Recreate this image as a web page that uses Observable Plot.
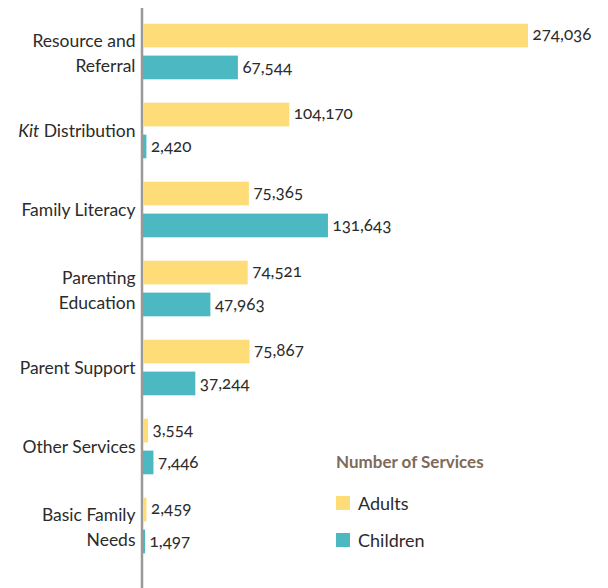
<!DOCTYPE html>
<html>
<head>
<meta charset="utf-8">
<script src="https://cdn.jsdelivr.net/npm/d3@7"></script>
<script src="https://cdn.jsdelivr.net/npm/@observablehq/plot@0.6"></script>
<style>
  html, body { margin: 0; padding: 0; background: #fff; }
  #wrap { position: relative; width: 608px; height: 588px; font-family: Lato, "Open Sans", sans-serif; }
  #legend { position: absolute; left: 336px; top: 451px; color: #2b2b2b; }
  #legend .title { font-weight: bold; font-size: 17px; line-height: 22px; color: #7d6b58; margin-bottom: 19px; }
  #legend .item { display: flex; align-items: center; height: 22px; margin-bottom: 15px; font-size: 18px; }
  #legend .sw { width: 14px; height: 14px; margin-right: 8px; }
</style>
</head>
<body>
<div id="wrap"></div>
<script>
const categories = ["Resource and Referral", "Kit Distribution", "Family Literacy", "Parenting Education", "Parent Support", "Other Services", "Basic Family Needs"];
const tickLabels = ["Resource and\nReferral", "Kit Distribution", "Family Literacy", "Parenting\nEducation", "Parent Support", "Other Services", "Basic Family\nNeeds"];
const adults = [274036, 104170, 75365, 74521, 75867, 3554, 2459];
const children = [67544, 2420, 131643, 47963, 37244, 7446, 1497];
const seriesNames = ["Adults", "Children"];
const seriesColors = ["#FEDC77", "#4BB8C2"];

const adultRows = categories.map((c, i) => ({category: c, value: adults[i]}));
const childRows = categories.map((c, i) => ({category: c, value: children[i]}));
const fmt = d3.format(",");
const labelOf = d => tickLabels[categories.indexOf(d)];
const singleLine = categories.filter(c => !labelOf(c).includes("\n"));
const multiLine = categories.filter(c => labelOf(c).includes("\n"));
const axisOpts = {tickSize: 0, tickPadding: 8, fontSize: 17.5, lineHeight: 1.45, label: null, fill: "#2b2b2b", tickFormat: labelOf};

const chart = Plot.plot({
  width: 608,
  height: 588,
  marginLeft: 143,
  marginRight: 80,
  marginTop: 8,
  marginBottom: 0,
  style: {fontFamily: "Lato, 'Open Sans', sans-serif", fontSize: "17px", color: "#2b2b2b", background: "#fff"},
  x: {domain: [0, d3.max(adults.concat(children))], axis: null},
  y: {domain: categories, range: [11.33, 566.67], paddingInner: 0, paddingOuter: 0, axis: null},
  marks: [
    Plot.ruleX([0], {stroke: "#999", strokeWidth: 2.5, dx: -1.5}),
    Plot.barX(adultRows, {x: "value", y: "category", fill: seriesColors[0], insetTop: 11.7, insetBottom: 43.6}),
    Plot.barX(childRows, {x: "value", y: "category", fill: seriesColors[1], insetTop: 43.6, insetBottom: 11.7}),
    Plot.text(adultRows, {x: "value", y: "category", text: d => fmt(d.value), dx: 4, dy: -17, textAnchor: "start", fontSize: 17, fill: "#2b2b2b"}),
    Plot.text(childRows, {x: "value", y: "category", text: d => fmt(d.value), dx: 4, dy: 16, textAnchor: "start", fontSize: 17, fill: "#2b2b2b"}),
    Plot.axisY({...axisOpts, ticks: singleLine, dy: -2.5}),
    Plot.axisY({...axisOpts, ticks: multiLine, dy: -0.5})
  ]
});

d3.select(chart).selectAll("text").each(function() {
  if (this.textContent === "Kit Distribution" && this.children.length === 0) {
    const t = d3.select(this);
    t.text("");
    t.append("tspan").attr("font-style", "italic").text("Kit");
    t.append("tspan").text(" Distribution");
  }
});
d3.select(chart).selectAll("text").style("font-variant-numeric", "oldstyle-nums");

const wrap = document.getElementById("wrap");
wrap.appendChild(chart);

const legend = document.createElement("div");
legend.id = "legend";
legend.innerHTML = '<div class="title">Number of Services</div>' +
  seriesNames.map((s, i) => `<div class="item"><div class="sw" style="background:${seriesColors[i]}"></div><span>${s}</span></div>`).join("");
wrap.appendChild(legend);
</script>
</body>
</html>
